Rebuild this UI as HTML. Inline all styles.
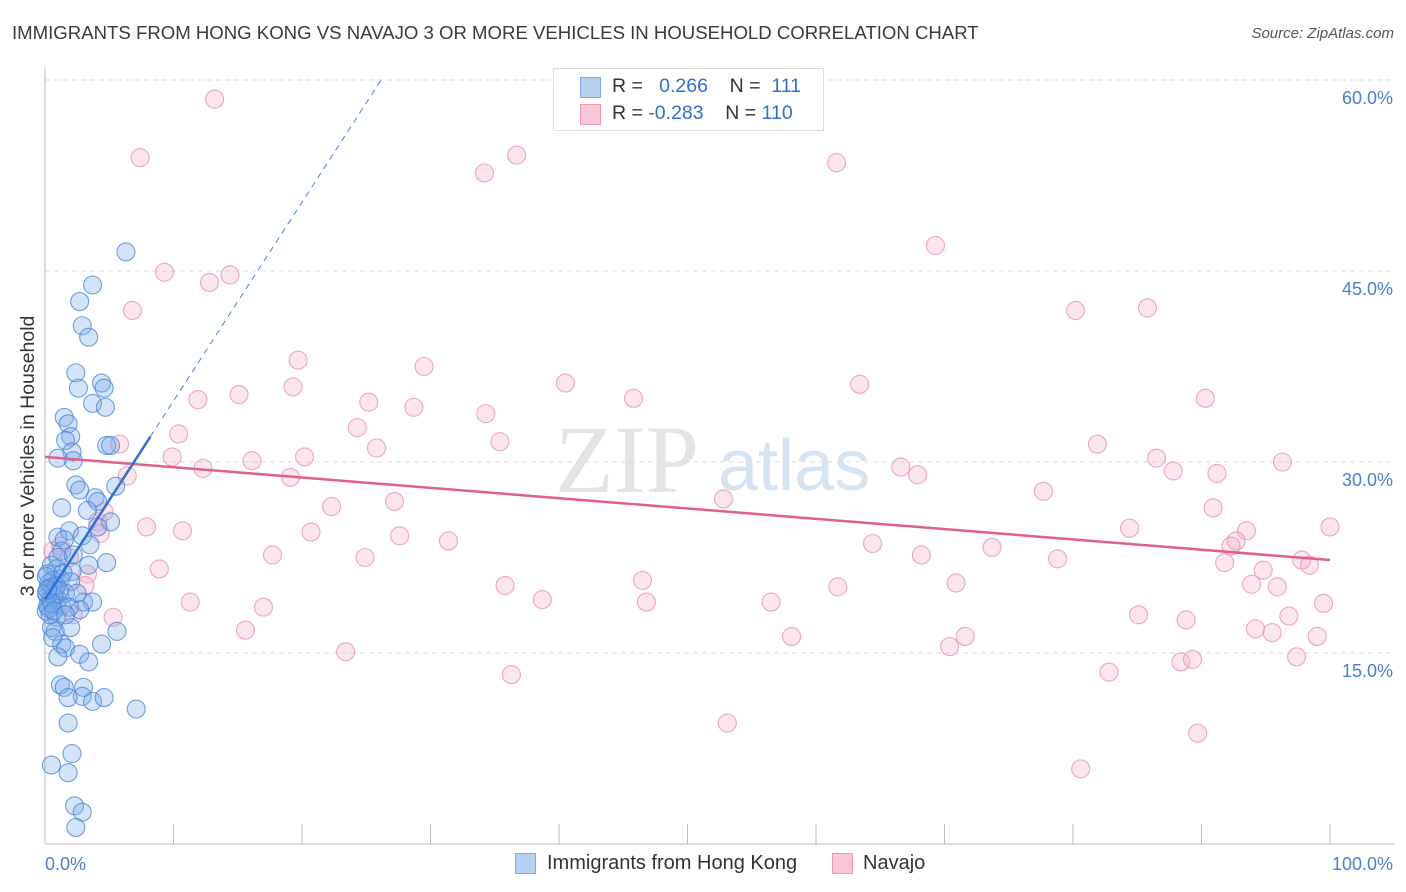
<!DOCTYPE html>
<html><head><meta charset="utf-8"><style>
body{margin:0;background:#fff;font-family:"Liberation Sans",sans-serif;}
#wrap{position:relative;width:1406px;height:892px;overflow:hidden;}
.t{position:absolute;white-space:nowrap;}
</style></head><body>
<div id="wrap">
<div class="t" style="left:12px;top:22px;font-size:18.6px;color:#3a3a3a;">IMMIGRANTS FROM HONG KONG VS NAVAJO 3 OR MORE VEHICLES IN HOUSEHOLD CORRELATION CHART</div>
<div class="t" style="right:12px;top:25px;font-size:15px;color:#555;font-style:italic;">Source: ZipAtlas.com</div>
<svg id="svg" width="1406" height="892" style="position:absolute;left:0;top:0"></svg>
</div>
<script>
const yTicks=[15,30,45,60];
const yTickLabels=["15.0%","30.0%","45.0%","60.0%"];
const xTickLabels=["0.0%","100.0%"];
const blueX=[6.3,3.7,2.7,2.9,3.4,2.4,2.6,4.4,4.6,3.7,4.7,1.5,1.8,2.0,1.6,2.1,2.2,1.0,4.8,5.1,2.4,2.7,3.9,4.1,5.5,1.3,3.3,5.1,4.1,1.9,2.9,1.0,1.5,3.5,1.3,4.8,3.4,0.5,0.9,2.1,0.2,1.2,2.0,0.4,0.8,0.2,1.6,1.0,3.0,3.7,1.3,2.7,0.1,0.9,0.5,0.8,2.0,5.6,1.3,1.6,2.7,3.4,4.4,1.2,1.5,3.0,2.9,1.8,3.7,4.6,7.1,1.8,2.1,0.5,1.8,2.3,2.9,2.4,0.3,0.6,0.1,0.4,0.2,0.7,0.3,0.6,0.1,0.9,0.4,1.1,0.5,0.2,1.4,1.0,0.7,1.9,2.5,2.2,0.6,1.0,1.6];
const blueY=[46.5,43.9,42.6,40.7,39.8,37.0,35.8,36.2,35.8,34.6,34.3,33.5,33.0,32.0,31.7,30.8,30.1,30.3,31.3,31.3,28.2,27.8,27.2,26.9,28.1,26.4,26.2,25.3,24.9,24.6,24.2,24.1,23.9,23.5,23.0,22.1,21.9,21.9,21.6,21.4,21.2,20.8,20.6,20.1,20.0,19.5,19.7,19.2,19.0,19.0,18.7,18.4,18.3,17.8,17.0,16.7,17.0,16.7,15.7,15.4,14.9,14.3,15.7,12.5,12.3,12.3,11.6,11.5,11.2,11.5,10.6,9.5,7.1,6.2,5.6,3.0,2.5,1.3,20.5,20.7,19.7,19.2,18.7,19.5,18.5,20.2,21.0,20.3,18.0,19.9,18.9,20.0,21.3,22.5,18.3,18.6,19.7,22.7,16.2,14.7,18.0];
const pinkX=[13.2,7.4,34.2,36.7,61.6,69.3,9.3,14.4,12.8,6.8,80.2,85.8,19.7,29.5,19.3,40.5,63.4,15.1,11.9,25.2,28.7,45.8,90.3,34.3,24.3,10.4,35.4,25.8,81.9,5.8,9.9,20.2,16.1,12.3,86.5,96.3,87.8,66.6,67.9,91.2,19.1,6.4,77.7,52.8,27.2,22.3,4.6,90.9,7.9,10.7,20.7,84.4,100,27.6,31.4,64.4,93.5,92.7,92.3,73.7,17.7,68.2,78.8,24.9,91.8,97.8,98.4,8.9,94.8,46.5,35.8,70.9,61.7,93.9,95.9,38.7,11.3,46.8,56.5,17.0,99.5,85.1,96.8,88.8,15.6,94.2,95.5,71.6,58.1,70.4,99.0,23.4,97.4,88.4,89.3,82.8,36.3,53.1,89.7,80.6,4.1,5.3,4.3,1.2,1.9,3.3,0.9,2.2,3.1,0.6];
const pinkY=[58.5,53.9,52.7,54.1,53.5,47.0,44.9,44.7,44.1,41.9,41.9,42.1,38.0,37.5,35.9,36.2,36.1,35.3,34.9,34.7,34.3,35.0,35.0,33.8,32.7,32.2,31.6,31.1,31.4,31.4,30.4,30.4,30.1,29.5,30.3,30.0,29.3,29.6,29.0,29.1,28.8,28.9,27.7,27.1,26.9,26.5,26.1,26.4,24.9,24.6,24.5,24.8,24.9,24.2,23.8,23.6,24.6,23.8,23.4,23.3,22.7,22.7,22.4,22.5,22.1,22.3,21.9,21.6,21.5,20.7,20.3,20.5,20.2,20.4,20.2,19.2,19.0,19.0,19.0,18.6,18.9,18.0,17.9,17.6,16.8,16.9,16.6,16.3,16.3,15.5,16.3,15.1,14.7,14.3,14.5,13.5,13.3,9.5,8.7,5.9,25.3,17.8,24.4,23.4,22.5,21.2,18.8,18.0,20.3,23.0];
const blueTrend=[19.2,1.56];
const pinkTrend=[30.4,22.3];
const X0=45,X1=1330,Y0=844,PY=191/15;
const sx=v=>X0+(X1-X0)*v/100, sy=v=>Y0-v*PY;
const svg=document.getElementById('svg');
const NS='http://www.w3.org/2000/svg';
function mk(tag,attrs,parent){const e=document.createElementNS(NS,tag);for(const k in attrs)e.setAttribute(k,attrs[k]);(parent||svg).appendChild(e);return e;}
let w=mk('text',{x:555,y:492,'font-size':96,'font-family':'Liberation Serif, serif',fill:'#e4e4e4'});w.textContent='ZIP';


let w2=mk('text',{x:718,y:490,'font-size':72,'font-family':'Liberation Sans, sans-serif',fill:'#d6e3f3'});w2.textContent='atlas';


yTicks.forEach((t,i)=>{
 const g=mk('line',{x1:X0,x2:1395,y1:sy(t),y2:sy(t),stroke:'#dddddd','stroke-dasharray':'5,4'});
 
 
 const l=mk('text',{x:1393,y:sy(t)+24,'text-anchor':'end','font-size':18,fill:'#4a7fd4','font-family':'Liberation Sans, sans-serif'});l.textContent=yTickLabels[i];
 
 
});
const ax=mk('line',{x1:X0,x2:X0,y1:68,y2:Y0,stroke:'#bbb'});


const bx=mk('line',{x1:X0,x2:1395,y1:Y0,y2:Y0,stroke:'#bbb'});


for(let i=0;i<=10;i++){const tk=mk('line',{x1:sx(i*10),x2:sx(i*10),y1:Y0-20,y2:Y0,stroke:'#bbb'});
 
 }
[[0,'start',45],[100,'end',1393]].forEach((d,i)=>{const t=mk('text',{x:d[2],y:870,'text-anchor':d[1],'font-size':18,fill:'#4a7fd4','font-family':'Liberation Sans, sans-serif'});t.textContent=xTickLabels[i];
 
 });
const yt=mk('text',{x:0,y:0,'font-size':19.5,fill:'#333','text-anchor':'middle','font-family':'Liberation Sans, sans-serif',transform:'translate(34,456) rotate(-90)'});yt.textContent='3 or more Vehicles in Household';


function pts(xs,ys,fill,stroke,name){xs.forEach((x,i)=>{const c=mk('circle',{cx:sx(x),cy:sy(ys[i]),r:9,fill:fill,stroke:stroke,'stroke-width':1.1});
 
 });}
pts(pinkX,pinkY,'rgba(245,170,195,0.3)','rgba(232,140,170,0.75)','navajo-point');
pts(blueX,blueY,'rgba(120,170,235,0.33)','rgba(70,130,215,0.75)','hong-kong-point');
const pt=mk('line',{x1:sx(0),y1:sy(pinkTrend[0]),x2:sx(100),y2:sy(pinkTrend[1]),stroke:'#e0608c','stroke-width':2.5});


const bxEnd=8.2,bxDash=26.3;
const bt=mk('line',{x1:sx(0),y1:sy(blueTrend[0]),x2:sx(bxEnd),y2:sy(blueTrend[0]+blueTrend[1]*bxEnd),stroke:'#2f6fd6','stroke-width':2.5});


const bd=mk('line',{x1:sx(bxEnd),y1:sy(blueTrend[0]+blueTrend[1]*bxEnd),x2:sx(bxDash),y2:sy(blueTrend[0]+blueTrend[1]*bxDash),stroke:'#4a80d8','stroke-width':1,'stroke-dasharray':'6,5'});


</script>
<div class="t" style="left:553px;top:68px;width:269px;height:61px;border:1px solid #ddd;background:#fff;">
 <div class="t" style="left:26px;top:8px;width:19px;height:19px;background:#b7d1f5;border:1px solid #7fa8e4;"></div>
 <div class="t" style="left:26px;top:35px;width:19px;height:19px;background:#f9c6d6;border:1px solid #eb9ab5;"></div>
 <div class="t" style="left:58px;top:6px;font-size:19.5px;color:#333;">R = &nbsp;&nbsp;<span style="color:#2f6fd6">0.266</span>&nbsp;&nbsp;&nbsp; N = &nbsp;<span style="color:#2f6fd6">111</span></div>
 <div class="t" style="left:58px;top:33px;font-size:19.5px;color:#333;">R = <span style="color:#2f6fd6">-0.283</span>&nbsp;&nbsp;&nbsp; N = <span style="color:#2f6fd6">110</span></div>
</div>
<div class="t" style="left:515px;top:853px;width:19px;height:19px;background:#b7d1f5;border:1px solid #7fa8e4;"></div>
<div class="t" style="left:547px;top:852px;font-size:20px;color:#333;">Immigrants from Hong Kong</div>
<div class="t" style="left:832px;top:853px;width:19px;height:19px;background:#f9c6d6;border:1px solid #eb9ab5;"></div>
<div class="t" style="left:863px;top:852px;font-size:20px;color:#333;">Navajo</div>
</body></html>
